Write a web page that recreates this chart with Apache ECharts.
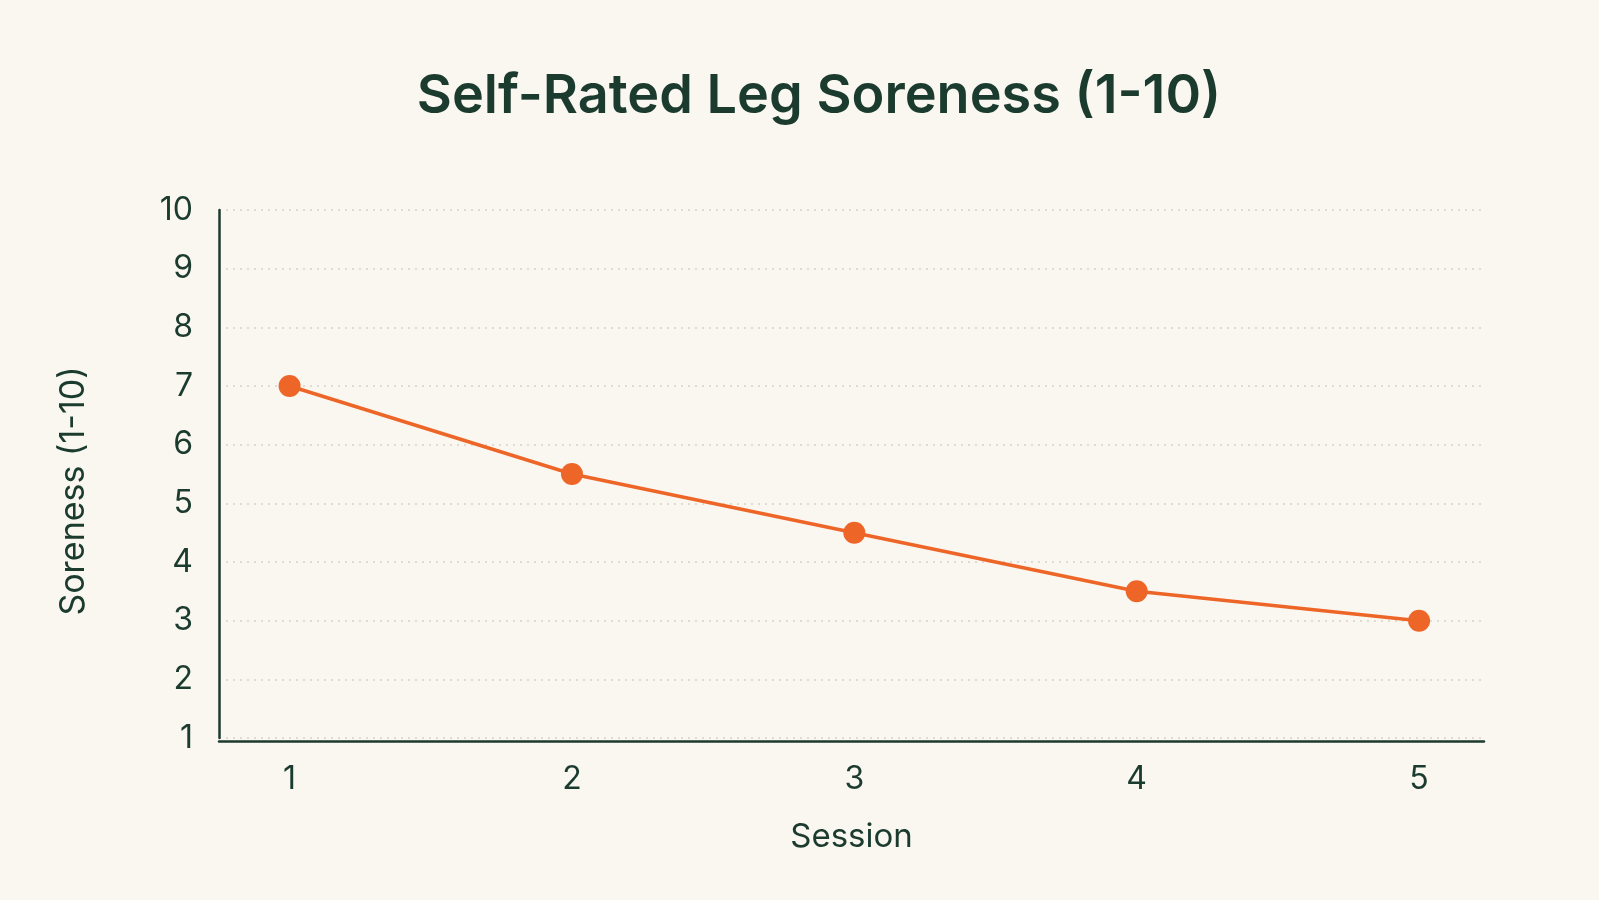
<!DOCTYPE html>
<html>
<head>
<meta charset="utf-8">
<script src="https://cdn.jsdelivr.net/npm/echarts@6/dist/echarts.min.js"></script>
<style>
  html, body { margin: 0; padding: 0; background: #faf7f1; }
  #chart { width: 1599px; height: 900px; }
</style>
</head>
<body>
<div id="chart"></div>
<script>
// data
var sessions = [1, 2, 3, 4, 5];
var soreness = [7, 5.5, 4.5, 3.5, 3];
var yTicks = [1, 2, 3, 4, 5, 6, 7, 8, 9, 10];

var ink = "#1c3b2f";
var orange = "#ee6528";

var chart = echarts.init(document.getElementById("chart"));

var option = {
  backgroundColor: "#faf7f1",
  textStyle: { fontFamily: "Inter, 'Noto Sans', sans-serif" },
  title: {
    text: "Self-Rated Leg Soreness (1-10)",
    left: 814,
    textAlign: "center",
    top: 65,
    textStyle: {
      color: ink,
      fontSize: 54,
      fontWeight: 600,
      fontFamily: "Inter, 'Noto Sans', sans-serif"
    }
  },
  grid: {
    left: 219,
    right: 115,
    top: 210,
    bottom: 162
  },
  xAxis: {
    type: "value",
    min: 0.75,
    max: 5.23,
    interval: 0.25,
    offset: 3,
    name: "Session",
    nameLocation: "middle",
    nameGap: 80,
    nameTextStyle: { color: ink, fontSize: 33 },
    axisLine: { show: true, lineStyle: { color: ink, width: 2.5 } },
    axisTick: { show: false },
    splitLine: { show: false },
    axisLabel: {
      color: ink,
      fontSize: 32,
      margin: 22,
      formatter: function (v) {
        return sessions.indexOf(v) >= 0 ? String(v) : "";
      }
    }
  },
  yAxis: {
    type: "value",
    min: yTicks[0],
    max: yTicks[yTicks.length - 1],
    interval: 1,
    name: "Soreness (1-10)",
    nameLocation: "middle",
    nameGap: 128,
    nameTextStyle: { color: ink, fontSize: 34, padding: [0, 34, 0, 0] },
    axisLine: { show: true, lineStyle: { color: ink, width: 2.5 } },
    axisTick: { show: false },
    axisLabel: { color: ink, fontSize: 32, margin: 26 },
    splitLine: {
      show: true,
      lineStyle: { color: "#d6d2ca", type: [2, 5], width: 1.5 }
    }
  },
  series: [
    {
      type: "line",
      data: sessions.map(function (s, i) { return [s, soreness[i]]; }),
      symbol: "circle",
      symbolSize: 22,
      lineStyle: { color: orange, width: 3.5 },
      itemStyle: { color: orange },
      z: 5
    }
  ]
};

chart.setOption(option);
</script>
</body>
</html>
